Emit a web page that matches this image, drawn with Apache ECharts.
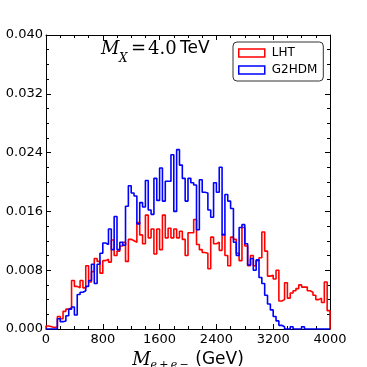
<!DOCTYPE html>
<html lang="en">
<head>
    <meta charset="UTF-8">
    <script type="text/javascript" src="https://cdn.jsdelivr.net/npm/echarts@6/dist/echarts.min.js"></script>
    <style>
        html, body { margin: 0; padding: 0; background: #fff; }
    </style>
</head>
<body>
    <div id="main" style="width: 367px; height: 367px;"></div>
    <script type="text/javascript">
        // 100 bins, 40 GeV each, from 0 to 4000
        var binWidth = 40;
        var lht = [
            0.0004, 0.0003, 0.0002, 0.0003, 0.0017, 0.0014, 0.0024, 0.0027, 0.0029, 0.0066,
            0.0058, 0.0056, 0.0066, 0.0056, 0.0086, 0.0064, 0.0078, 0.0096, 0.0092, 0.0076,
            0.0093, 0.0095, 0.0091, 0.0121, 0.0100, 0.0106, 0.0113, 0.0118, 0.0092, 0.0122,
            0.0120, 0.0118, 0.0145, 0.0128, 0.0116, 0.0155, 0.0124, 0.0136, 0.0102, 0.0136,
            0.0108, 0.0155, 0.0124, 0.0137, 0.0124, 0.0136, 0.0124, 0.0133, 0.0122, 0.0100,
            0.0131, 0.0131, 0.0149, 0.0115, 0.0108, 0.0104, 0.0103, 0.0082, 0.0125, 0.0116,
            0.0118, 0.0107, 0.0129, 0.0100, 0.0086, 0.0125, 0.0122, 0.0103, 0.0093, 0.0138,
            0.0113, 0.0086, 0.0100, 0.0086, 0.0093, 0.0097, 0.0132, 0.0106, 0.0072, 0.0073,
            0.0068, 0.0080, 0.0038, 0.0040, 0.0063, 0.0042, 0.0049, 0.0052, 0.0055, 0.0060,
            0.0057, 0.0057, 0.0052, 0.0050, 0.0046, 0.0040, 0.0042, 0.0036, 0.0064, 0.0025
        ];
        var g2hdm = [
            0, 0, 0, 0, 0.0014, 0.0010, 0.0011, 0.0018, 0.0027, 0.0030,
            0.0019, 0.0047, 0.0050, 0.0052, 0.0058, 0.0066, 0.0088, 0.0062, 0.0088, 0.0103,
            0.0117, 0.0115, 0.0136, 0.0108, 0.0153, 0.0108, 0.0118, 0.0114, 0.0167, 0.0195,
            0.0185, 0.0181, 0.0143, 0.0172, 0.0166, 0.0202, 0.0162, 0.0156, 0.0205, 0.0175,
            0.0219, 0.0174, 0.0201, 0.0201, 0.0237, 0.0160, 0.0244, 0.0223, 0.0205, 0.0174,
            0.0205, 0.0199, 0.0196, 0.0135, 0.0203, 0.0186, 0.0185, 0.0162, 0.0152, 0.0199,
            0.0186, 0.0220, 0.0128, 0.0183, 0.0174, 0.0164, 0.0118, 0.0100, 0.0138, 0.0142,
            0.0116, 0.0087, 0.0096, 0.0080, 0.0094, 0.0070, 0.0062, 0.0046, 0.0034, 0.0026,
            0.0017, 0.0011, 0.0005, 0.0003, 0, 0, 0.0003, 0, 0, 0,
            0.0003, 0, 0, 0, 0, 0, 0, 0, 0, 0
        ];
        var seriesNames = ['LHT', 'G2HDM'];
        var seriesColors = ['#ff0000', '#0000ff'];

        // turn bin contents into a step outline like histtype='step'
        function stepData(vals) {
            var out = [[0, 0]];
            for (var i = 0; i < vals.length; i++) {
                out.push([i * binWidth, vals[i]]);
            }
            var end = vals.length * binWidth;
            out.push([end, vals[vals.length - 1]]);
            out.push([end, 0]);
            return out;
        }

        var font = 'DejaVu Sans';
        var tickCommon = { show: true, inside: true, length: 5, lineStyle: { color: '#000', width: 1 } };
        var minorCommon = { show: true, splitNumber: 4, length: 3, lineStyle: { color: '#000', width: 1 } };

        var myChart = echarts.init(document.getElementById('main'), null, { renderer: 'canvas' });
        var option = {
            animation: false,
            backgroundColor: '#fff',
            grid: { left: 46, right: 37, top: 35, bottom: 38, outerBoundsMode: 'none', containLabel: false },
            legend: {
                left: 233,
                top: 42,
                orient: 'vertical',
                itemWidth: 26,
                itemHeight: 8,
                itemGap: 5,
                padding: [5, 6, 5, 5],
                borderColor: '#333',
                borderWidth: 1,
                borderRadius: 4,
                backgroundColor: '#fff',
                textStyle: { fontFamily: font, fontSize: 12, color: '#000', padding: [0, 0, 0, 2] },
                data: [
                    { name: 'LHT', icon: 'rect', itemStyle: { color: '#fff', borderColor: seriesColors[0], borderWidth: 1.5 }, lineStyle: { opacity: 0 } },
                    { name: 'G2HDM', icon: 'rect', itemStyle: { color: '#fff', borderColor: seriesColors[1], borderWidth: 1.5 }, lineStyle: { opacity: 0 } }
                ]
            },
            graphic: [
                { type: 'text', left: 101, top: 40, style: { text: 'M', font: 'italic 18px "DejaVu Serif"', fill: '#000' } },
                { type: 'text', left: 119, top: 53, style: { text: 'X', font: 'italic 12px "DejaVu Serif"', fill: '#000' } },
                { type: 'text', left: 131, top: 40, style: { text: '=', font: '18px "DejaVu Serif"', fill: '#000' } },
                { type: 'text', left: 148, top: 40, style: { text: '4.0', font: '18px "DejaVu Serif"', fill: '#000' } },
                { type: 'text', left: 180, top: 40, style: { text: 'TeV', font: '17px "DejaVu Sans"', fill: '#000' } }
            ],
            xAxis: [
                {
                    type: 'value', min: 0, max: 4000, interval: 800, position: 'bottom',
                    axisLine: { show: true, onZero: false, lineStyle: { color: '#000', width: 1 } },
                    axisTick: tickCommon, minorTick: minorCommon,
                    splitLine: { show: false },
                    axisLabel: {
                        fontFamily: font, fontSize: 13, color: '#000', margin: 4,
                        formatter: function (v) { return String(v); }
                    },
                    name: '{m|M}{s|e\u2009+\u2009e\u2009\u2212}  {g|(GeV)}',
                    nameLocation: 'middle',
                    nameGap: 17,
                    nameTextStyle: {
                        rich: {
                            m: { fontFamily: 'DejaVu Serif', fontStyle: 'italic', fontSize: 18, color: '#000', lineHeight: 22 },
                            s: { fontFamily: 'DejaVu Serif', fontStyle: 'italic', fontSize: 11, color: '#000', lineHeight: 22, verticalAlign: 'bottom', padding: [8, 0, 0, 0] },
                            g: { fontFamily: font, fontSize: 17, color: '#000', lineHeight: 22 }
                        }
                    }
                },
                {
                    type: 'value', min: 0, max: 4000, interval: 800, position: 'top',
                    axisLine: { show: true, onZero: false, lineStyle: { color: '#000', width: 1 } },
                    axisTick: tickCommon, minorTick: minorCommon,
                    splitLine: { show: false },
                    axisLabel: { show: false }
                }
            ],
            yAxis: [
                {
                    type: 'value', min: 0, max: 0.04, interval: 0.008, position: 'left',
                    axisLine: { show: true, onZero: false, lineStyle: { color: '#000', width: 1 } },
                    axisTick: tickCommon, minorTick: minorCommon,
                    splitLine: { show: false },
                    axisLabel: {
                        fontFamily: font, fontSize: 13, color: '#000', margin: 3,
                        formatter: function (v) { return v.toFixed(3); }
                    }
                },
                {
                    type: 'value', min: 0, max: 0.04, interval: 0.008, position: 'right',
                    axisLine: { show: true, onZero: false, lineStyle: { color: '#000', width: 1 } },
                    axisTick: tickCommon, minorTick: minorCommon,
                    splitLine: { show: false },
                    axisLabel: { show: false }
                }
            ],
            series: [
                {
                    name: seriesNames[0], type: 'line', step: 'end', showSymbol: false,
                    lineStyle: { color: seriesColors[0], width: 1.6 },
                    itemStyle: { color: seriesColors[0] },
                    data: stepData(lht)
                },
                {
                    name: seriesNames[1], type: 'line', step: 'end', showSymbol: false,
                    lineStyle: { color: seriesColors[1], width: 1.6 },
                    itemStyle: { color: seriesColors[1] },
                    data: stepData(g2hdm)
                }
            ]
        };
        myChart.setOption(option);
    </script>
</body>
</html>
